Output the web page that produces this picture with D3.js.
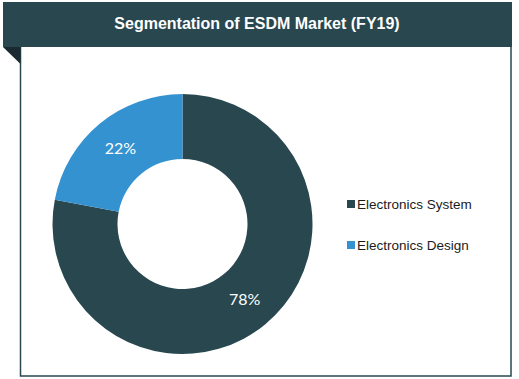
<!DOCTYPE html>
<html><head><meta charset="utf-8">
<script src="https://cdn.jsdelivr.net/npm/d3@7"></script>
<style>html,body{margin:0;padding:0;background:#fff;}</style>
</head><body>
<svg id="c" width="519" height="379"></svg>
<script>
const title = "Segmentation of ESDM Market (FY19)";
const categories = ["Electronics System", "Electronics Design"];
const values = [78, 22];
const labels = ["78%", "22%"];
const colors = ["#28474f", "#3592d1"];

const svg = d3.select("#c");
// frame
svg.append("rect").attr("x", 20.5).attr("y", 30).attr("width", 490.5).attr("height", 346)
  .attr("fill", "#fff").attr("stroke", "#28474f").attr("stroke-width", 1.5);
// folded corner
svg.append("path").attr("d", "M3,47 L20.5,47 L20.5,64 Z").attr("fill", "#1a2a30");
// header
svg.append("rect").attr("x", 3).attr("y", 2).attr("width", 509).attr("height", 45).attr("fill", "#28474f");
svg.append("text").attr("x", 257).attr("y", 29).attr("text-anchor", "middle")
  .attr("font-family", "Liberation Sans, Arial, sans-serif").attr("font-weight", "bold")
  .attr("font-size", 16).attr("fill", "#fff").text(title);

const cx = 182.5, cy = 224, R = 130, r = 65;
const pie = d3.pie().sort(null).value(d => d)(values);
const arc = d3.arc().innerRadius(r).outerRadius(R);
const g = svg.append("g").attr("transform", `translate(${cx},${cy})`);
g.selectAll("path").data(pie).join("path").attr("d", arc).attr("fill", (d, i) => colors[i]);
g.selectAll("text").data(pie).join("text")
  .attr("transform", d => `translate(${arc.centroid(d)})`)
  .attr("text-anchor", "middle").attr("dy", "0.35em")
  .attr("font-family", "Lato, sans-serif").attr("font-size", 16).attr("fill", "#fff")
  .text((d, i) => labels[i]);

const y = d3.scalePoint().domain(categories).range([204, 245]);
const lg = svg.append("g");
categories.forEach((c, i) => {
  lg.append("rect").attr("x", 347).attr("y", y(c) - 4).attr("width", 8).attr("height", 8).attr("fill", colors[i]);
  lg.append("text").attr("x", 357).attr("y", y(c)).attr("dy", "0.35em")
    .attr("font-family", "Liberation Sans, Arial, sans-serif").attr("font-size", 13.5)
    .attr("fill", "#1b1b1b").text(c);
});
</script>
</body></html>
